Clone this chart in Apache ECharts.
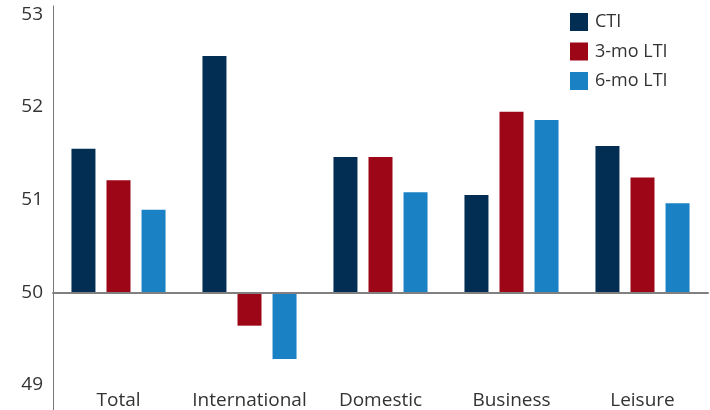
<!DOCTYPE html>
<html><head><meta charset="utf-8">
<script src="https://cdn.jsdelivr.net/npm/echarts@6/dist/echarts.min.js"></script>
<style>html,body{margin:0;padding:0;background:#fff}#c{width:710px;height:410px}</style>
</head><body><div id="c"></div>
<script>
const categories = ['Total', 'International', 'Domestic', 'Business', 'Leisure'];
const cti = [51.55, 52.55, 51.46, 51.05, 51.58];
const lti3 = [51.21, 49.64, 51.46, 51.95, 51.24];
const lti6 = [50.89, 49.28, 51.08, 51.86, 50.96];
const yTicks = [49, 50, 51, 52, 53];
const base = 50;

const FONT = 'Open Sans';
const chart = echarts.init(document.getElementById('c'));
function mk(name, data, color) {
  return {
    name, type: 'bar', xAxisIndex: 0, yAxisIndex: 0,
    data: data.map(v => +(v - base).toFixed(3)),
    barWidth: 24, barGap: '46%',
    itemStyle: { color },
    z: 1
  };
}
chart.setOption({
  animation: false,
  textStyle: { fontFamily: FONT },
  grid: { left: 53, right: 2, top: 6, bottom: 0 },
  legend: {
    orient: 'vertical', left: 565, top: 8,
    itemWidth: 18, itemHeight: 18, itemGap: 11.5,
    icon: 'rect',
    textStyle: { fontSize: 18, color: '#333', fontFamily: FONT, padding: [0, 0, 0, 2] },
    data: ['CTI', '3-mo LTI', '6-mo LTI']
  },
  xAxis: [{
    type: 'category', data: categories,
    axisLine: { onZero: true, lineStyle: { color: '#808080', width: 2 } },
    axisTick: { show: false }, axisLabel: { show: false }, z: 5
  }, {
    type: 'category', data: categories, position: 'bottom',
    axisLine: { show: false, onZero: false }, axisTick: { show: false },
    axisLabel: { inside: true, interval: 0, margin: 0, fontSize: 19, color: '#333', fontFamily: FONT }
  }],
  yAxis: {
    type: 'value', min: -1.27, max: 3.09,
    splitLine: { show: false },
    axisTick: { show: false },
    axisLine: { show: true, lineStyle: { color: '#777', width: 1 } },
    axisLabel: {
      customValues: yTicks.map(v => v - base),
      formatter: v => String(Math.round(v + base)),
      fontSize: 19, color: '#333', margin: 10, fontFamily: FONT
    }
  },
  series: [
    mk('CTI', cti, '#032E54'),
    mk('3-mo LTI', lti3, '#9D0616'),
    mk('6-mo LTI', lti6, '#1A81C4')
  ]
});
</script></body></html>
